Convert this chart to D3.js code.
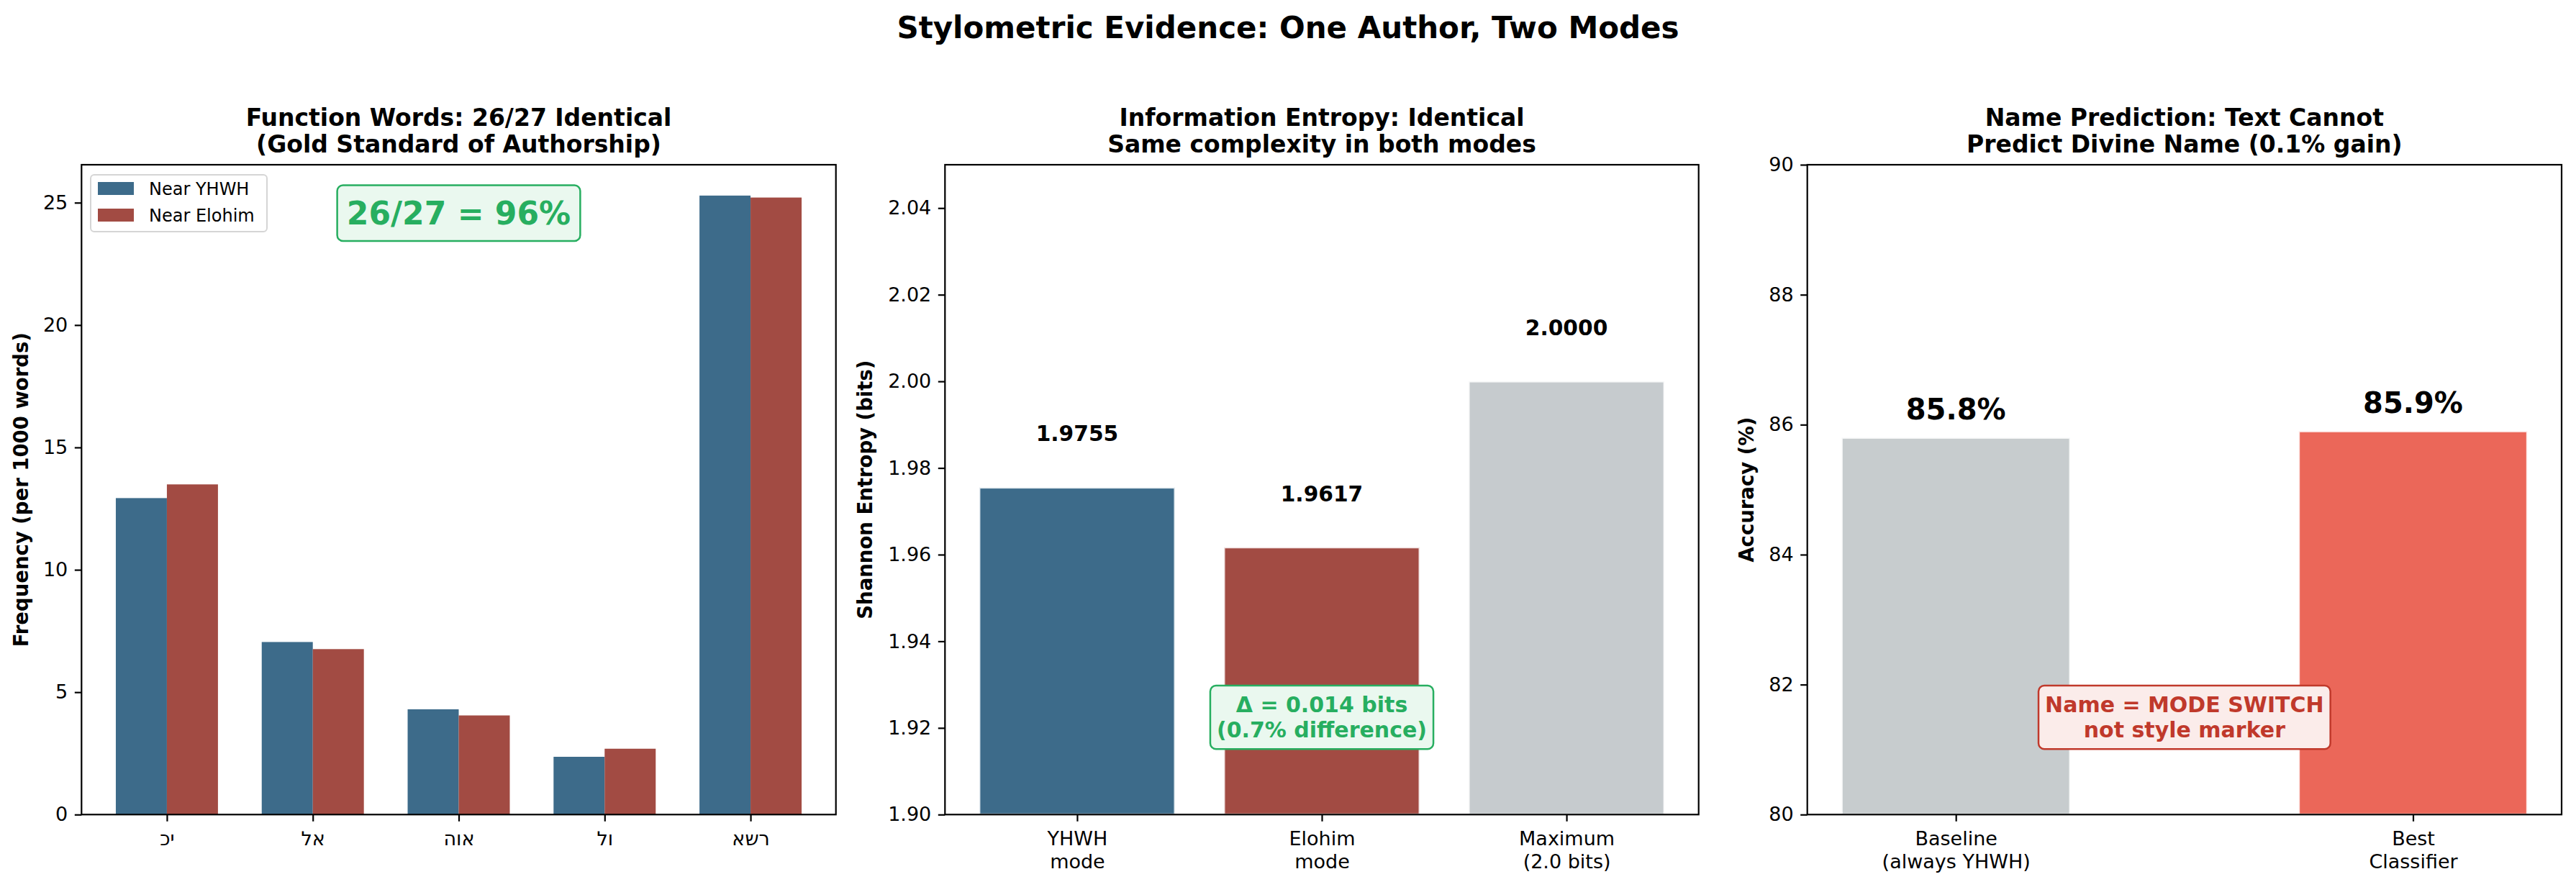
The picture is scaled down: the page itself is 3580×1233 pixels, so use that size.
<!DOCTYPE html>
<html>
<head>
<meta charset="utf-8">
<script src="https://cdn.jsdelivr.net/npm/d3@7"></script>
<style>
  body { margin: 0; background: #fff; }
  text { font-family: "DejaVu Sans", sans-serif; }
</style>
</head>
<body>
<svg id="chart"></svg>
<script>
// panel 1: function words (per 1000 words)
const words = ['כי', 'לא', 'הוא', 'לו', 'אשר'];
const nearYhwh = [12.93, 7.05, 4.30, 2.36, 25.29];
const nearElohim = [13.49, 6.76, 4.05, 2.69, 25.21];
const freqTicks = [0, 5, 10, 15, 20, 25];

// panel 2: entropy
const entropyLabels = [['YHWH', 'mode'], ['Elohim', 'mode'], ['Maximum', '(2.0 bits)']];
const entropyValues = [1.9755, 1.9617, 2.0];
const entropyTicks = [1.90, 1.92, 1.94, 1.96, 1.98, 2.00, 2.02, 2.04];

// panel 3: name prediction
const accuracyLabels = [['Baseline', '(always YHWH)'], ['Best', 'Classifier']];
const accuracyValues = [85.8, 85.9];
const accuracyTicks = [80, 82, 84, 86, 88, 90];

const W = 3580, H = 1233;
const axTop = 229, axBottom = 1132.3;
const BLUE = '#3d6b8a', RED = '#a24b43', GRAY = '#c6cbce', BRIGHT = '#eb6759';
const GREEN = '#27ae60', DARKRED = '#c0392b';

const svg = d3.select('#chart').attr('width', W).attr('height', H);
svg.append('rect').attr('width', W).attr('height', H).attr('fill', '#fff');

svg.append('text')
  .attr('x', W / 2).attr('y', 53)
  .attr('text-anchor', 'middle')
  .attr('font-size', 42).attr('font-weight', 'bold')
  .text('Stylometric Evidence: One Author, Two Modes');

// sets up one axes box, returns group + scales
const makePanel = (left, right, xDomain, yDomain, title) => {
  const g = svg.append('g').attr('transform', `translate(${left},${axTop})`);
  const w = right - left, h = axBottom - axTop;
  const x = d3.scaleLinear().domain(xDomain).range([0, w]);
  const y = d3.scaleLinear().domain(yDomain).range([h, 0]);
  title.forEach((t, i) => {
    g.append('text')
      .attr('x', w / 2).attr('y', -54 + i * 37)
      .attr('text-anchor', 'middle')
      .attr('font-size', 33).attr('font-weight', 'bold')
      .text(t);
  });
  return { g, x, y, w, h };
};

const styleAxis = sel => {
  sel.select('.domain').remove();
  sel.selectAll('.tick line').attr('stroke', '#000').attr('stroke-width', 2.2);
  sel.selectAll('.tick text').attr('font-size', 27).attr('fill', '#000')
    .attr('font-family', '"DejaVu Sans", sans-serif');
};

const drawLeftAxis = (p, ticks, fmt) => {
  p.g.append('g')
    .call(d3.axisLeft(p.y).tickValues(ticks).tickSize(9.5).tickPadding(9.5).tickFormat(fmt))
    .call(styleAxis);
};

const drawBottomAxis = (p, ticks, labels) => {
  const ax = p.g.append('g').attr('transform', `translate(0,${p.h})`)
    .call(d3.axisBottom(p.x).tickValues(ticks).tickSize(9.5).tickPadding(14))
    .call(styleAxis);
  ax.selectAll('.tick text').each(function (d) {
    const t = d3.select(this).text(null);
    labels[d].forEach((line, i) => {
      t.append('tspan').attr('x', 0).attr('dy', i === 0 ? '0.71em' : '1.19em').text(line);
    });
  });
};

const drawFrame = p => {
  p.g.append('rect')
    .attr('width', p.w).attr('height', p.h)
    .attr('fill', 'none').attr('stroke', '#000').attr('stroke-width', 2.2);
};

const yLabel = (p, xOff, text) => {
  p.g.append('text')
    .attr('transform', `translate(${xOff},${p.h / 2}) rotate(-90)`)
    .attr('text-anchor', 'middle')
    .attr('font-size', 27.5).attr('font-weight', 'bold')
    .text(text);
};

// rounded annotation box centred at (cx, cy)
const noteBox = (p, cx, cy, lines, color, fill, fs) => {
  const ng = p.g.append('g');
  const txt = ng.append('text')
    .attr('text-anchor', 'middle')
    .attr('font-size', fs).attr('font-weight', 'bold')
    .attr('fill', color);
  const lh = fs * 1.17;
  const y0 = cy - (lines.length - 1) * lh / 2 + fs * 0.36;
  lines.forEach((l, i) => {
    txt.append('tspan').attr('x', cx).attr('y', y0 + i * lh).text(l);
  });
  const bb = txt.node().getBBox();
  const pad = fs * 0.3;
  ng.insert('rect', 'text')
    .attr('x', bb.x - pad).attr('y', bb.y - pad)
    .attr('width', bb.width + 2 * pad).attr('height', bb.height + 2 * pad)
    .attr('rx', 8).attr('fill', fill).attr('stroke', color).attr('stroke-width', 2.5);
};

// ---------- panel 1 ----------
const p1 = makePanel(113.3, 1161.7, [-0.585, 4.585], [0, 26.55],
  ['Function Words: 26/27 Identical', '(Gold Standard of Authorship)']);
const bw = 0.35;
const groups = [{ vals: nearYhwh, color: BLUE, off: -bw }, { vals: nearElohim, color: RED, off: 0 }];
groups.forEach(s => {
  p1.g.selectAll(null).data(s.vals).enter().append('rect')
    .attr('x', (d, i) => p1.x(i + s.off))
    .attr('width', p1.x(bw) - p1.x(0))
    .attr('y', d => p1.y(d))
    .attr('height', d => p1.y(0) - p1.y(d))
    .attr('fill', s.color);
});
drawLeftAxis(p1, freqTicks, d3.format('d'));
// matplotlib draws the Hebrew glyphs in stored order, so flip for the browser's bidi
const shown = words.map(w => Array.from(w).reverse().join(''));
drawBottomAxis(p1, d3.range(words.length), shown.map(s => [s]));
drawFrame(p1);
yLabel(p1, -74.3, 'Frequency (per 1000 words)');

const leg = p1.g.append('g').attr('transform', 'translate(12.7,14)');
leg.append('rect').attr('width', 245).attr('height', 79).attr('rx', 5)
  .attr('fill', '#fff').attr('fill-opacity', 0.8).attr('stroke', '#d5d5d5').attr('stroke-width', 2);
[['Near YHWH', BLUE], ['Near Elohim', RED]].forEach(([name, c], i) => {
  leg.append('rect').attr('x', 10).attr('y', 10 + i * 37).attr('width', 50).attr('height', 18).attr('fill', c);
  leg.append('text').attr('x', 81).attr('y', 28 + i * 36.5).attr('font-size', 24).text(name);
});
noteBox(p1, p1.w / 2, p1.h * (1 - 0.926), ['26/27 = 96%'], GREEN, '#eaf8ef', 44);

// ---------- panel 2 ----------
const p2 = makePanel(1313.3, 2360.7, [-0.54, 2.54], [1.90, 2.05],
  ['Information Entropy: Identical', 'Same complexity in both modes']);
const entColors = [BLUE, RED, GRAY];
p2.g.selectAll(null).data(entropyValues).enter().append('rect')
  .attr('x', (d, i) => p2.x(i - 0.4))
  .attr('width', p2.x(0.8) - p2.x(0))
  .attr('y', d => p2.y(d))
  .attr('height', d => p2.y(1.90) - p2.y(d))
  .attr('fill', (d, i) => entColors[i])
  .attr('stroke', '#fff').attr('stroke-opacity', 0.85).attr('stroke-width', 3);
p2.g.selectAll(null).data(entropyValues).enter().append('text')
  .attr('x', (d, i) => p2.x(i))
  .attr('y', d => p2.y(d + 0.01) - 4)
  .attr('text-anchor', 'middle')
  .attr('font-size', 29.7).attr('font-weight', 'bold')
  .text(d => d.toFixed(4));
drawLeftAxis(p2, entropyTicks, d3.format('.2f'));
drawBottomAxis(p2, d3.range(entropyValues.length), entropyLabels);
drawFrame(p2);
yLabel(p2, -101.6, 'Shannon Entropy (bits)');
noteBox(p2, p2.w / 2, p2.h * 0.85, ['Δ = 0.014 bits', '(0.7% difference)'], GREEN, '#eaf8ef', 30);

// ---------- panel 3 ----------
const p3 = makePanel(2511.7, 3560, [-0.325, 1.325], [80, 90],
  ['Name Prediction: Text Cannot', 'Predict Divine Name (0.1% gain)']);
const accColors = ['#c7ccce', BRIGHT];
p3.g.selectAll(null).data(accuracyValues).enter().append('rect')
  .attr('x', (d, i) => p3.x(i - 0.25))
  .attr('width', p3.x(0.5) - p3.x(0))
  .attr('y', d => p3.y(d))
  .attr('height', d => p3.y(80) - p3.y(d))
  .attr('fill', (d, i) => accColors[i])
  .attr('stroke', '#fff').attr('stroke-opacity', 0.85).attr('stroke-width', 3);
p3.g.selectAll(null).data(accuracyValues).enter().append('text')
  .attr('x', (d, i) => p3.x(i))
  .attr('y', d => p3.y(d) - 25)
  .attr('text-anchor', 'middle')
  .attr('font-size', 40).attr('font-weight', 'bold')
  .text(d => d.toFixed(1) + '%');
drawLeftAxis(p3, accuracyTicks, d3.format('d'));
drawBottomAxis(p3, d3.range(accuracyValues.length), accuracyLabels);
drawFrame(p3);
yLabel(p3, -75, 'Accuracy (%)');
noteBox(p3, p3.w / 2, p3.h * 0.85, ['Name = MODE SWITCH', 'not style marker'], DARKRED, '#fbecea', 30);
</script>
</body>
</html>
